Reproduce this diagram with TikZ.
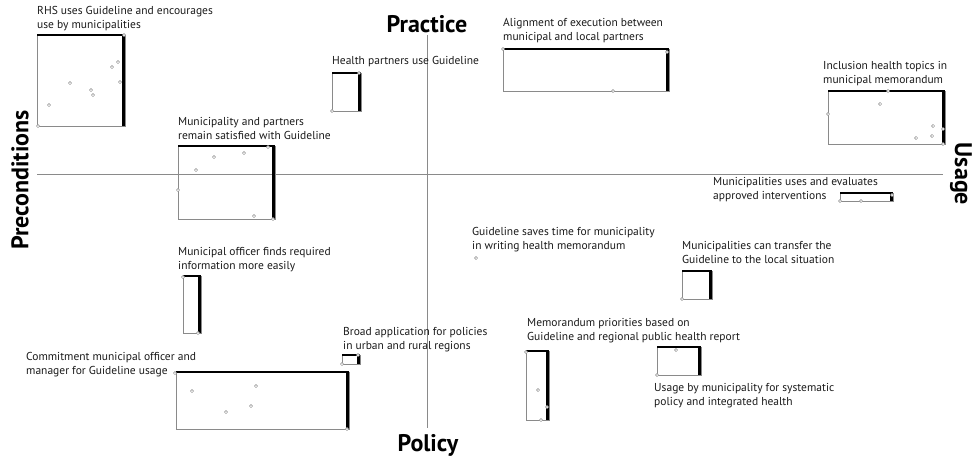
\documentclass[tikz,border=0pt]{standalone}
\usepackage{fontspec}
\setmainfont{PT Sans}
\usepackage{tikz}
\usetikzlibrary{calc}
\usepackage{xcolor}
\definecolor{axis_grey}{HTML}{8a8a8a}
\definecolor{text_dark}{HTML}{1a1a1a}

\tikzset{
	boxline/.style={draw=axis_grey, line width=0.6pt},
	topedge/.style={draw=black, line width=1.4pt},
	sideedge/.style={draw=black, line width=2.6pt},
	datapt/.style={draw=axis_grey, fill=white, line width=0.5pt},
	txt/.style={anchor=north west, inner sep=0pt, align=left, text=text_dark, font=\fontsize{11.5}{14}\selectfont},
	axtitle/.style={inner sep=0pt, font=\fontsize{24}{26}\selectfont\bfseries}
}

\begin{document}
\begin{tikzpicture}[x=1pt, y=-1pt]
	\useasboundingbox (0, 0) rectangle (972, 459);
	% axes
	\coordinate (W) at (37, 174);
	\coordinate (E) at (943, 174);
	\coordinate (N) at (427, 35);
	\coordinate (S) at (427, 428);
	\draw[axis_grey, line width=0.8pt] (W) -- (E);
	\draw[axis_grey, line width=0.8pt] (N) -- (S);
	\node[axtitle, anchor=base] (practice) at (427, 32) {Practice};
	\node[axtitle, anchor=base] (policy) at (428, 451) {Policy};
	\node[axtitle, rotate=90] (precond) at (20, 180) {Preconditions};
	\node[axtitle, rotate=-90] (usage) at (961, 174) {Usage};
	% boxes
	\coordinate (RHSa) at (37, 35);       \coordinate (RHSb) at (125, 126);
	\coordinate (SATa) at (178, 146);     \coordinate (SATb) at (275, 219);
	\coordinate (HPa) at (332, 73);       \coordinate (HPb) at (361, 111);
	\coordinate (ALIa) at (503, 49);      \coordinate (ALIb) at (669, 91);
	\coordinate (INCa) at (828, 91);      \coordinate (INCb) at (945, 144);
	\coordinate (EVAa) at (840, 193);     \coordinate (EVAb) at (893, 201);
	\coordinate (FINa) at (183, 276);     \coordinate (FINb) at (201, 333);
	\coordinate (BROa) at (342, 355);     \coordinate (BROb) at (360, 364);
	\coordinate (COMa) at (176, 372);     \coordinate (COMb) at (349, 429);
	\coordinate (MEMa) at (526, 351);     \coordinate (MEMb) at (549, 420);
	\coordinate (TRAa) at (682, 271);     \coordinate (TRAb) at (712, 299);
	\coordinate (SYSa) at (657, 347);     \coordinate (SYSb) at (701, 375);
	\foreach \b in {RHS, SAT, HP, ALI, INC, EVA, FIN, BRO, COM, MEM, TRA, SYS} {
		\draw[boxline] (\b a) rectangle (\b b);
		\draw[topedge] (\b a) -- (\b a -| \b b);
		\draw[sideedge] ($(\b a -| \b b) + (-1.3, -0.7)$) -- ($(\b b) + (-1.3, 0)$);
	}
	% labels
	\node[txt] (rhs) at (37, 6) {RHS uses Guideline and encourages\\use by municipalities};
	\node[txt] (sat) at (178, 117) {Municipality and partners\\remain satisfied with Guideline};
	\node[txt] (hp) at (332, 56) {Health partners use Guideline};
	\node[txt] (ali) at (503, 18) {Alignment of execution between\\municipal and local partners};
	\node[txt] (inc) at (823, 61) {Inclusion health topics in\\municipal memorandum};
	\node[txt] (eva) at (713, 177) {Municipalities uses and evaluates\\approved interventions};
	\node[txt] (sav) at (472, 227) {Guideline saves time for municipality\\in writing health memorandum};
	\node[txt] (fin) at (178, 247) {Municipal officer finds required\\information more easily};
	\node[txt] (bro) at (343, 327) {Broad application for policies\\in urban and rural regions};
	\node[txt] (com) at (26, 352) {Commitment municipal officer and\\manager for Guideline usage};
	\node[txt] (mem) at (527, 318) {Memorandum priorities based on\\Guideline and regional public health report};
	\node[txt] (tra) at (682, 241) {Municipalities can transfer the\\Guideline to the local situation};
	\node[txt] (sys) at (654, 383) {Usage by municipality for systematic\\policy and integrated health};
	% data points
	\foreach \p in {(38,126), (124,35), (49,105), (70,83), (91,90), (93,95), (112,67), (118,62), (120,82),
			(178,190), (196,170), (214,157), (244,153), (268,147), (254,216), (273,219),
			(332,111), (359,73),
			(503,49), (613,91), (667,52),
			(828,114), (888,91), (880,104), (916,138), (933,126), (932,136), (943,129), (943,144),
			(840,201), (861,201), (892,195),
			(476,258),
			(183,277), (198,333),
			(342,364), (358,355),
			(175,373), (192,391), (226,412), (251,406), (256,386), (347,429),
			(526,352), (538,390), (547,407), (541,420),
			(682,299),
			(657,375), (676,350)} {
		\draw[datapt] \p circle[radius=1.6pt];
	}
\end{tikzpicture}
\end{document}
